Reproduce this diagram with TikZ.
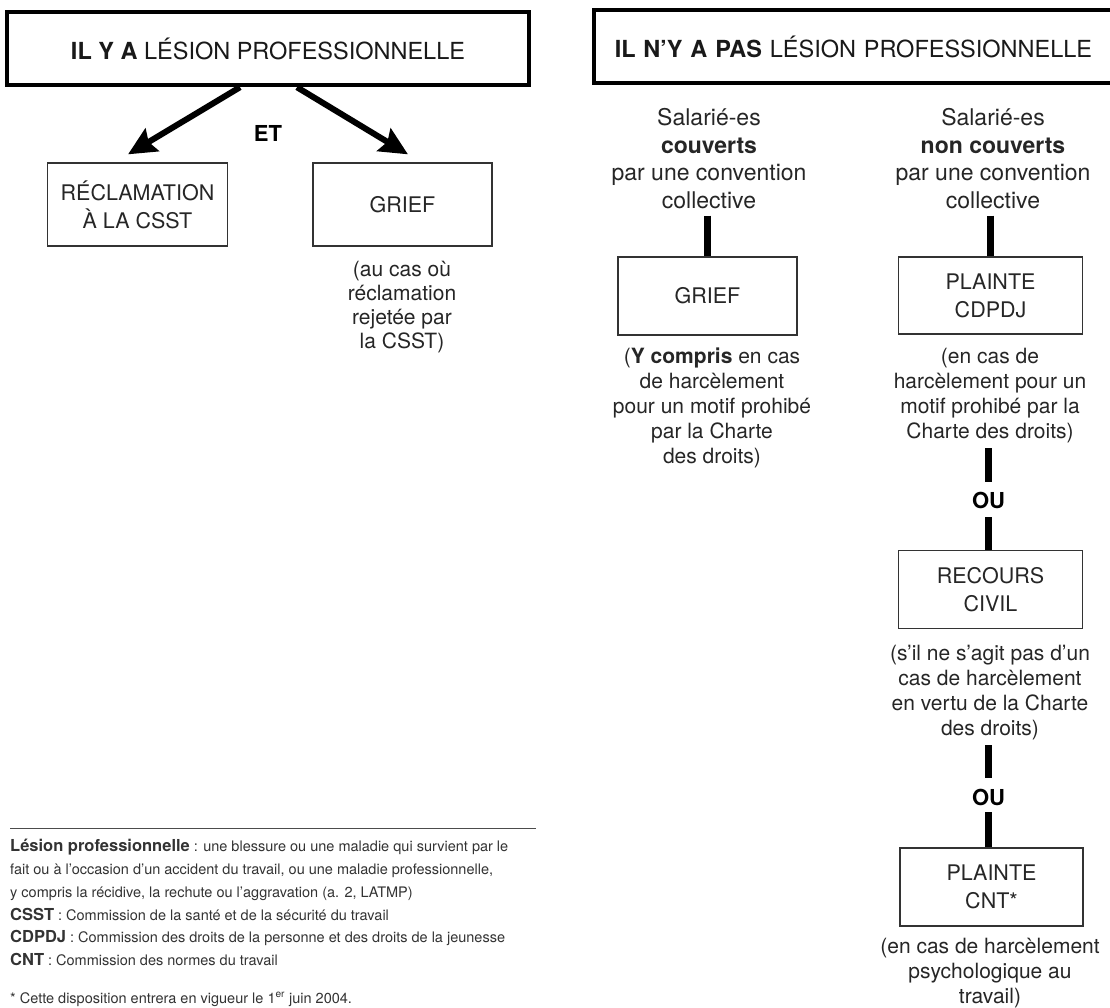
\documentclass[tikz,border=0pt]{standalone}
\usepackage{fontspec}
\setmainfont{TeX Gyre Heros}
\usetikzlibrary{arrows.meta}
\newcommand\fnbfont{\bfseries\fontsize{16.5}{22.8}\selectfont}
\begin{document}
\begin{tikzpicture}[x=1pt,y=-1pt,
  bigbox/.style={draw=black, line width=4.5pt, inner sep=0pt, minimum height=73pt,
    font=\fontsize{23.5}{28}\selectfont, text=black!90},
  thinbox/.style={draw=black!80, line width=1.3pt, align=center, inner sep=0pt,
    font=\fontsize{21.5}{28}\selectfont, text=black!85},
  lbl/.style={align=center, inner sep=0pt, font=\fontsize{21}{24.5}\selectfont, text=black!85},
  grp/.style={align=center, inner sep=0pt, font=\fontsize{23}{27.7}\selectfont, text=black!85},
  conj/.style={inner sep=0pt, font=\bfseries\fontsize{22}{26}\selectfont, text=black},
  bar/.style={line width=6.5pt, line cap=butt, draw=black},
  bigarrow/.style={line width=6pt, draw=black, -{Stealth[length=28pt,width=26pt,inset=4pt]}},
  fn/.style={align=left, inner sep=0pt, font=\fontsize{14.5}{22.8}\selectfont, text=black!80}
]
\useasboundingbox (0,0) rectangle (1110,1008);
\clip (0,0) rectangle (1110,1008);
\fill[white] (0,0) rectangle (1110,1008);

% ---- left part
\node[bigbox, minimum width=522pt] (hdr1) at (268,48.5) {\textbf{IL Y A} LÉSION PROFESSIONNELLE};
\node[conj] (et) at (268,133) {ET};
\node[thinbox, minimum width=180pt, minimum height=83pt] (recl) at (137.5,204.5) {RÉCLAMATION\\À LA CSST};
\node[thinbox, minimum width=179pt, minimum height=83pt] (grief1) at (402.5,204.5) {GRIEF};
\node[lbl, font=\fontsize{21}{24}\selectfont] (cap1) at (402,307.5) {(au cas où\\réclamation\\rejetée par\\la CSST)};

\draw[bigarrow] ([xshift=-28pt]hdr1.south) -- ([shift={(-9.5,-8)}]recl.north);
\draw[bigarrow] ([xshift=29pt]hdr1.south) -- ([shift={(5.5,-8)}]grief1.north);

% ---- right part
\node[bigbox, anchor=west, text width=560pt, align=left, inner xsep=21pt] (hdr2) at (591.5,46.5)
  {\textbf{IL N’Y A PAS} LÉSION PROFESSIONNELLE};

\node[grp] (sal1) at (709,158.5) {Salarié-es\\\textbf{couverts}\\par une convention\\collective};
\node[grp] (sal2) at (993,158.5) {Salarié-es\\\textbf{non couverts}\\par une convention\\collective};

\node[thinbox, minimum width=179pt, minimum height=78pt] (grief2) at (707.5,296) {GRIEF};
\node[thinbox, minimum width=184pt, minimum height=77pt] (cdpdj) at (990.5,295.5) {PLAINTE\\CDPDJ};

\node[lbl, font=\fontsize{21}{25}\selectfont] (cap2) at (712,408)
  {(\textbf{Y compris} en cas\\de harcèlement\\pour un motif prohibé\\par la Charte\\des droits)};
\node[lbl, font=\fontsize{21}{25}\selectfont] (cap3) at (990,395.5)
  {(en cas de\\harcèlement pour un\\motif prohibé par la\\Charte des droits)};

\node[conj] (ou1) at (988.6,500) {OU};
\node[thinbox, minimum width=184pt, minimum height=78pt] (recours) at (990.5,589.5) {RECOURS\\CIVIL};
\node[lbl, font=\fontsize{21}{25}\selectfont] (cap4) at (990,692.5)
  {(s’il ne s’agit pas d’un\\cas de harcèlement\\en vertu de la Charte\\des droits)};
\node[conj] (ou2) at (988.6,797) {OU};
\node[thinbox, minimum width=183pt, minimum height=78pt] (cnt) at (991.5,887) {PLAINTE\\CNT*};
\node[lbl, font=\fontsize{21}{25}\selectfont] (cap5) at (990,973)
  {(en cas de harcèlement\\psychologique au\\travail)};

\draw[bar, shorten <=6.6pt] (grief2.north |- sal1.south) -- (grief2.north);
\draw[bar, shorten <=6.6pt] (cdpdj.north |- sal2.south) -- (cdpdj.north);
\draw[bar, shorten <=5pt, shorten >=10pt] (ou1.north |- cap3.south) -- (ou1.north);
\draw[bar, shorten <=8.8pt] (ou1.south) -- (ou1.south |- recours.north);
\draw[bar, shorten <=5pt, shorten >=10.8pt] (ou2.north |- cap4.south) -- (ou2.north);
\draw[bar, shorten <=6.8pt] (ou2.south) -- (ou2.south |- cnt.north);

% ---- footnotes
\draw[black!70, line width=1pt] (10,828) -- (536,828);
\node[fn, anchor=north west] (fn) at (10,839)
  {{\fnbfont Lésion professionnelle} : une blessure ou une maladie qui survient par le\\
   fait ou à l’occasion d’un accident du travail, ou une maladie professionnelle,\\
   y compris la récidive, la rechute ou l’aggravation (a. 2, LATMP)\\
   {\fnbfont CSST} : Commission de la santé et de la sécurité du travail\\
   {\fnbfont CDPDJ} : Commission des droits de la personne et des droits de la jeunesse\\
   {\fnbfont CNT} : Commission des normes du travail};
\node[fn, anchor=base west] (note) at (10,1003)
  {* Cette disposition entrera en vigueur le 1\textsuperscript{er} juin 2004.};
\end{tikzpicture}
\end{document}
